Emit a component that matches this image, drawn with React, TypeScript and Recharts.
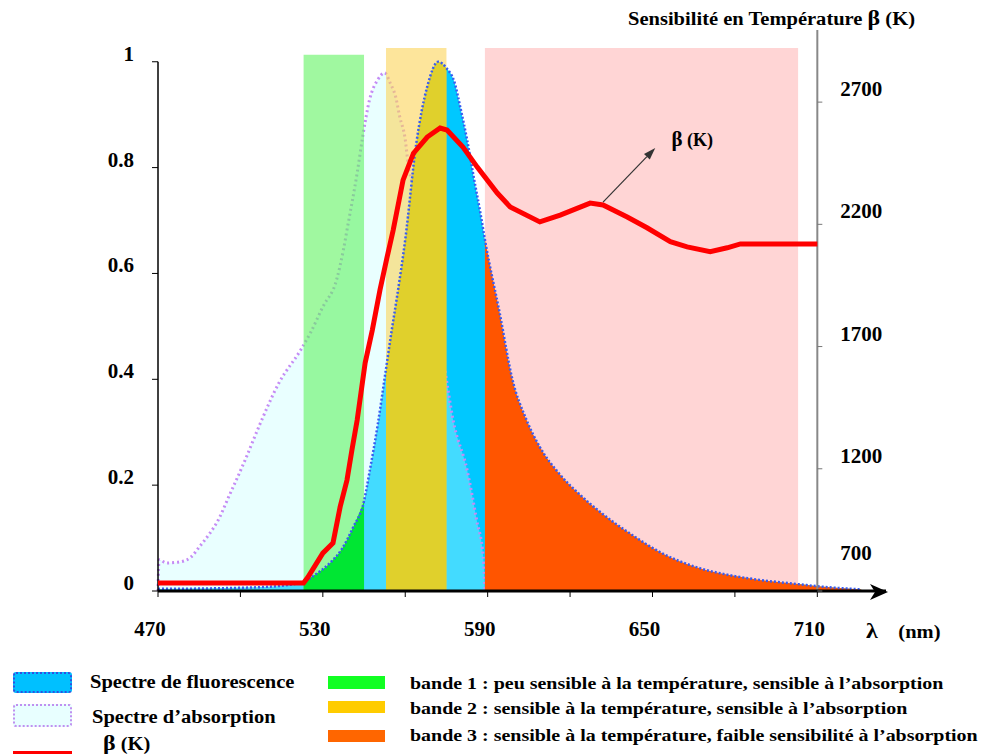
import React from "react";
import {
  ComposedChart,
  Area,
  Line,
  XAxis,
  YAxis,
  ReferenceArea,
  ReferenceLine,
  ReferenceDot,
} from "recharts";

// fluorescence spectrum (normalised)
const fluoNm = [470, 490, 510, 523, 527, 533, 537, 541, 545, 547, 550, 553, 555, 557, 560, 564, 568, 572, 575, 578, 580, 582.5, 585, 587.5, 589, 594.5, 599, 604, 609, 616, 624, 632, 642, 654, 666, 678, 689, 703, 710, 726];
const fluoVal = [0.004, 0.005, 0.008, 0.017, 0.03, 0.055, 0.08, 0.12, 0.17, 0.225, 0.315, 0.42, 0.49, 0.556, 0.664, 0.845, 0.953, 1.0, 0.988, 0.96, 0.915, 0.853, 0.78, 0.71, 0.664, 0.522, 0.4, 0.325, 0.272, 0.222, 0.18, 0.145, 0.108, 0.07, 0.045, 0.03, 0.021, 0.013, 0.009, 0.003];

// absorption spectrum (normalised)
const absNm = [470, 470.4, 473, 478, 482, 485, 489, 491.5, 496, 502, 507, 514, 522, 525.5, 530, 535, 537.5, 539, 542.5, 544.5, 547, 550, 552.5, 554.5, 556.5, 558, 560, 561, 563, 564.5, 567, 570, 574, 577.5, 582.5, 586, 588.4, 589];
const absVal = [0, 0.059, 0.053, 0.055, 0.064, 0.083, 0.11, 0.13, 0.181, 0.251, 0.314, 0.393, 0.456, 0.488, 0.537, 0.588, 0.645, 0.688, 0.79, 0.858, 0.928, 0.966, 0.979, 0.96, 0.934, 0.896, 0.853, 0.809, 0.758, 0.701, 0.625, 0.54, 0.431, 0.321, 0.229, 0.134, 0.064, 0];

// temperature sensitivity beta (K)
const betaNm = [470, 523, 524.6, 530, 533.7, 536.3, 538.8, 540.6, 542.5, 545.4, 548, 550.8, 553.4, 555.6, 559.2, 563, 568, 572.7, 575.2, 581, 586.2, 593.5, 598.2, 609, 616.4, 627.3, 632, 640.8, 648, 656.5, 662.6, 671, 677.2, 682, 710];
const betaK = [733, 733, 757, 855, 896, 1044, 1154, 1277, 1399, 1633, 1767, 1931, 2066, 2176, 2381, 2491, 2557, 2594, 2586, 2516, 2434, 2328, 2271, 2210, 2238, 2287, 2279, 2230, 2186, 2129, 2108, 2088, 2104, 2120, 2120];

// bands (nm)
const bandFrom = [523, 553, 589];
const bandTo = [545, 575, 703];
const bandTop = [1.013, 1.026, 1.026];
const segTo = [545, 575, 726];

const xTicks = [470, 500, 530, 560, 590, 620, 650, 680, 710];
const xLabels = [470, 530, 590, 650, 710];
const leftTicks = [0, 0.2, 0.4, 0.6, 0.8, 1];
const rightTicks = [700, 1200, 1700, 2200, 2700];

const fluo = fluoNm.map((x, i) => ({ x, y: fluoVal[i] }));
const absorption = absNm.map((x, i) => ({ x, y: absVal[i] }));
const beta = betaNm.map((x, i) => ({ x, k: betaK[i] }));
const segments = bandFrom.map((f, i) => fluo.filter((p) => p.x >= f && p.x <= segTo[i]));

const bandColors = ["#61f361", "#fcd458", "#ffb9b9"];
const segColors = ["#00e633", "#e0d02c", "#ff5500"];

const serif = '"Liberation Serif", "Times New Roman", serif';
const num = { fontFamily: serif, fontWeight: 700, fontSize: 21, fill: "#000" };

const XTick = (props: any) => {
  const { x, y, payload } = props;
  if (!xLabels.includes(payload.value)) return <g />;
  return (
    <text x={x - 8} y={y + 37} textAnchor="middle" style={num}>
      {payload.value}
    </text>
  );
};

const LeftTick = (props: any) => {
  const { x, y, payload } = props;
  return (
    <text x={x - 16} y={y - 1} textAnchor="end" style={num}>
      {payload.value}
    </text>
  );
};

const rightTickShape = (v: number) => (p: any) => (
  <g>
    <line x1={p.cx} y1={p.cy} x2={p.cx + 5} y2={p.cy} stroke="#777" strokeWidth={1} />
    <text x={p.cx + 23} y={p.cy + (v === 700 ? -31 : -6)} style={num}>
      {v}
    </text>
  </g>
);

const ArrowShape = (p: any) => {
  const { x1, y1, x2, y2 } = p;
  const a = Math.atan2(y2 - y1, x2 - x1);
  const bx = x2 - 12 * Math.cos(a);
  const by = y2 - 12 * Math.sin(a);
  const px = -Math.sin(a) * 4;
  const py = Math.cos(a) * 4;
  return (
    <g>
      <line x1={x1} y1={y1} x2={bx} y2={by} stroke="#333" strokeWidth={1.2} />
      <polygon points={`${x2},${y2} ${bx + px},${by + py} ${bx - px},${by - py}`} fill="#333" />
    </g>
  );
};

const BetaLabel = (p: any) => (
  <text x={p.cx} y={p.cy + 6} textAnchor="middle" style={{ fontFamily: serif, fontWeight: 700, fontSize: 18 }}>
    <tspan style={{ fontSize: 21 }}>β</tspan> (K)
  </text>
);

const AxisArrow = (p: any) => (
  <path
    d={`M${p.cx + 2},${p.cy + 1} L${p.cx - 16},${p.cy - 7} L${p.cx - 11},${p.cy + 1} L${p.cx - 16},${p.cy + 9} Z`}
    fill="#000"
  />
);

const txt: React.CSSProperties = {
  position: "absolute",
  fontFamily: serif,
  fontWeight: 700,
  fontSize: 18,
  whiteSpace: "nowrap",
  lineHeight: "20px",
  color: "#000",
  transform: "scaleX(1.14)",
  transformOrigin: "left center",
};

const band: React.CSSProperties = { ...txt, fontSize: 17.5 };

export default function App() {
  return (
    <div style={{ position: "absolute", left: 0, top: 0, width: 990, height: 754, background: "#fff", overflow: "hidden" }}>
      <ComposedChart width={990} height={660} margin={{ top: 30, right: 104, bottom: 0, left: 0 }}>
        <XAxis
          dataKey="x"
          type="number"
          domain={[470, 735]}
          ticks={xTicks}
          interval={0}
          allowDuplicatedCategory={false}
          height={69}
          axisLine={{ stroke: "#000", strokeWidth: 3 }}
          tickLine={{ stroke: "#000" }}
          tickSize={6}
          tick={XTick}
        />
        <YAxis
          yAxisId="left"
          type="number"
          domain={[0, 1.06]}
          ticks={leftTicks}
          width={158}
          axisLine={false}
          tickLine={{ stroke: "#000" }}
          tickSize={6}
          tick={LeftTick}
        />
        <YAxis yAxisId="right" orientation="right" type="number" domain={[700, 2995]} hide />

        <Area
          yAxisId="left"
          data={fluo}
          dataKey="y"
          type="monotone"
          fill="#00c8ff"
          fillOpacity={1}
          stroke="none"
          isAnimationActive={false}
        />
        <Area
          yAxisId="left"
          data={absorption}
          dataKey="y"
          type="monotone"
          fill="#c0ffff"
          fillOpacity={0.35}
          stroke="#c58cf5"
          strokeWidth={3}
          strokeDasharray="2 3"
          isAnimationActive={false}
        />

        {bandFrom.map((f, i) => (
          <ReferenceArea
            key={"band" + i}
            yAxisId="left"
            x1={f}
            x2={bandTo[i]}
            y1={0}
            y2={bandTop[i]}
            fill={bandColors[i]}
            fillOpacity={0.6}
            stroke="none"
          />
        ))}

        {segments.map((s, i) => (
          <Area
            key={"seg" + i}
            yAxisId="left"
            data={s}
            dataKey="y"
            type="monotone"
            fill={segColors[i]}
            fillOpacity={1}
            stroke="none"
            isAnimationActive={false}
          />
        ))}

        <Line
          yAxisId="left"
          data={fluo}
          dataKey="y"
          type="monotone"
          stroke="#3a5cf0"
          strokeWidth={2.5}
          strokeDasharray="2 2"
          dot={false}
          isAnimationActive={false}
        />

        <ReferenceLine yAxisId="left" segment={[{ x: 470, y: 0 }, { x: 470, y: 1 }]} stroke="#000" strokeWidth={1.5} />
        <ReferenceLine yAxisId="right" x={710} stroke="#888" strokeWidth={2} />
        {rightTicks.map((v) => (
          <ReferenceDot key={"rt" + v} yAxisId="right" x={710} y={v} r={0} ifOverflow="visible" shape={rightTickShape(v)} />
        ))}

        <Line
          yAxisId="right"
          data={beta}
          dataKey="k"
          type="linear"
          stroke="#ff0000"
          strokeWidth={5}
          dot={false}
          isAnimationActive={false}
        />

        <ReferenceLine yAxisId="right" segment={[{ x: 632, y: 2291 }, { x: 651, y: 2512 }]} shape={ArrowShape} />
        <ReferenceDot yAxisId="right" x={664.5} y={2545} r={0} ifOverflow="visible" shape={BetaLabel} />
        <ReferenceDot yAxisId="left" x={735} y={0} r={0} ifOverflow="visible" shape={AxisArrow} />
      </ComposedChart>

      <div style={{ ...txt, left: 628, top: 8 }}>
        Sensibilité en Température <span style={{ fontSize: 21 }}>β</span> (K)
      </div>
      <div style={{ ...txt, left: 866, top: 621 }}>
        <span style={{ fontSize: 21 }}>λ</span>
        <span style={{ marginLeft: 18 }}>(nm)</span>
      </div>

      {/* legend */}
      <div style={{ position: "absolute", left: 13, top: 672, width: 55, height: 17, background: "#00c0ff", border: "2px dotted #3050e0", borderRadius: 3 }} />
      <div style={{ ...txt, left: 90, top: 672 }}>Spectre de fluorescence</div>
      <div style={{ position: "absolute", left: 13, top: 704, width: 55, height: 19, background: "#e8ffff", border: "2px dotted #c090f0", borderRadius: 3 }} />
      <div style={{ ...txt, left: 92, top: 707 }}>Spectre d’absorption</div>
      <div style={{ ...txt, left: 103, top: 733 }}>
        <span style={{ fontSize: 21 }}>β</span> (K)
      </div>
      <div style={{ position: "absolute", left: 13, top: 751, width: 59, height: 3, background: "#ff0000" }} />

      <div style={{ position: "absolute", left: 328, top: 676, width: 57, height: 13, background: "#11ff22" }} />
      <div style={{ ...band, left: 410, top: 673 }}>bande 1 : peu sensible à la température, sensible à l’absorption</div>
      <div style={{ position: "absolute", left: 328, top: 701, width: 57, height: 12, background: "#ffcc00" }} />
      <div style={{ ...band, left: 410, top: 698 }}>bande 2 : sensible à la température, sensible à l’absorption</div>
      <div style={{ position: "absolute", left: 328, top: 730, width: 57, height: 12, background: "#ff6600" }} />
      <div style={{ ...band, left: 410, top: 725 }}>bande 3 : sensible à la température, faible sensibilité à l’absorption</div>
    </div>
  );
}
